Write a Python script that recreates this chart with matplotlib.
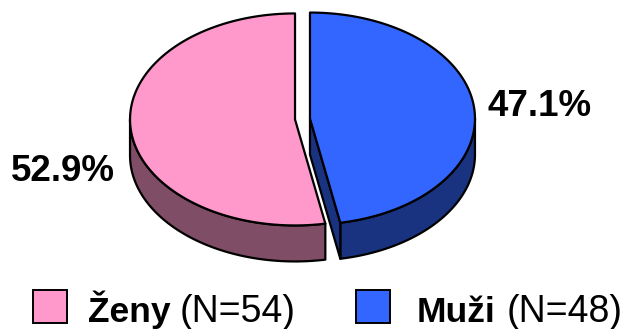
import numpy as np
import matplotlib
matplotlib.use("Agg")
import matplotlib.pyplot as plt
from matplotlib.patches import Polygon, Rectangle

# Respondent counts by sex
categories = ["Ženy", "Muži"]
counts = [54, 48]
top_colors = ["#FF99CC", "#3366FF"]
side_colors = ["#804D66", "#1A3380"]

plt.rcParams["font.family"] = ["Liberation Sans", "DejaVu Sans"]

W, H = 624, 329
fig = plt.figure(figsize=(W / 100, H / 100), dpi=100)
ax = fig.add_axes([0, 0, 1, 1])
ax.set_xlim(0, W)
ax.set_ylim(H, 0)
ax.axis("off")

# 3-D pie geometry (pixel units of the canvas)
CX, CY = 302.5, 119.0
RX, RY = 165.0, 106.0
DEPTH = 36.0
EXPLODE = 0.0455
LW = 1.6

total = float(sum(counts))
shares = [c / total for c in counts]


def pt(cx, cy, theta_deg, dy=0.0):
    t = np.radians(theta_deg)
    return cx + RX * np.cos(t), cy - RY * np.sin(t) + dy


def arc(cx, cy, a0, a1, dy=0.0, n=120):
    th = np.radians(np.linspace(a0, a1, n))
    return np.column_stack([cx + RX * np.cos(th), cy - RY * np.sin(th) + dy])


# slices start at 12 o'clock and run counter-clockwise
start = 90.0
slices = []
for share in shares:
    span = share * 360.0
    a0, a1 = start, start + span
    mid = np.radians((a0 + a1) / 2)
    cx = CX + EXPLODE * RX * np.cos(mid)
    cy = CY - EXPLODE * RY * np.sin(mid)
    slices.append((a0, a1, cx, cy))
    start = a1

edge_kw = dict(edgecolor="black", linewidth=LW, joinstyle="round")

# side walls and visible cut faces
for (a0, a1, cx, cy), sc in zip(slices, side_colors):
    # outer wall on the front half (180..360 deg)
    for off in (0.0, 360.0):
        lo = max(a0, 180.0 + off)
        hi = min(a1, 360.0 + off)
        if hi > lo:
            top = arc(cx, cy, lo, hi)
            bot = arc(cx, cy, hi, lo, dy=DEPTH)
            ax.add_patch(Polygon(np.vstack([top, bot]), closed=True,
                                 facecolor=sc, **edge_kw, zorder=2))
    # radial cut faces that turn toward the viewer
    for ang, sign in ((a0, -1), (a1, 1)):
        ny = np.sin(np.radians(ang + sign * 90.0))
        if -ny > 0.02 and np.sin(np.radians(ang)) < 0:
            ex, ey = pt(cx, cy, ang)
            face = [(cx, cy), (ex, ey), (ex, ey + DEPTH), (cx, cy + DEPTH)]
            ax.add_patch(Polygon(face, closed=True, facecolor=sc,
                                 **edge_kw, zorder=2))

# top faces
for (a0, a1, cx, cy), tc in zip(slices, top_colors):
    pts = np.vstack([[cx, cy], arc(cx, cy, a0, a1)])
    ax.add_patch(Polygon(pts, closed=True, facecolor=tc, **edge_kw, zorder=3))

# percentage labels
label_fmt = "{:.1f}%"
ax.text(487, 116, label_fmt.format(shares[1] * 100), fontsize=26.5,
        fontweight="bold", ha="left", va="baseline", zorder=5)
ax.text(11, 181, label_fmt.format(shares[0] * 100), fontsize=26.5,
        fontweight="bold", ha="left", va="baseline", zorder=5)

# legend
legend_items = [
    (33, 88, 180, 0),
    (356, 417, 507, 1),
]
for box_x, name_x, n_x, i in legend_items:
    ax.add_patch(Rectangle((box_x, 290), 34, 33, facecolor=top_colors[i],
                           edgecolor="black", linewidth=1.4, zorder=5))
    ax.text(name_x, 322, categories[i], fontsize=25.5, fontweight="bold",
            ha="left", va="baseline", zorder=5)
    ax.text(n_x, 322, f"(N={counts[i]})", fontsize=27,
            ha="left", va="baseline", zorder=5)

fig.savefig("out.png", dpi=100)
